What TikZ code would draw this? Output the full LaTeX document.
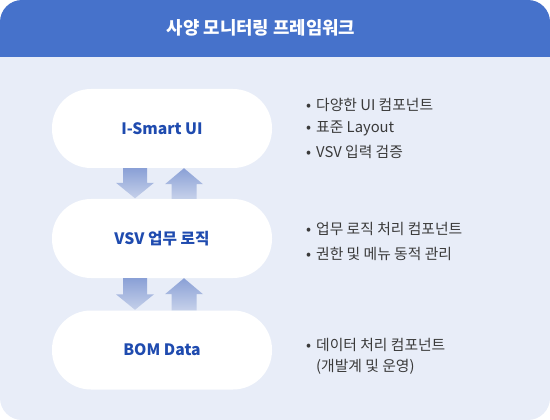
\documentclass[tikz,border=0pt]{standalone}
\usepackage{fontspec}
\setmainfont{Noto Sans CJK KR}
\usetikzlibrary{calc}
\definecolor{hdr}{HTML}{4672CB}
\definecolor{bodybg}{HTML}{E8EDF8}
\definecolor{pilltext}{HTML}{1F4BAF}
\definecolor{bultext}{HTML}{3A3A3A}
\definecolor{arrlight}{HTML}{C6D1EA}
\definecolor{arrdark}{HTML}{8AA0D6}
\tikzset{
  pill/.style={fill=white, minimum width=220pt, minimum height=79pt, rounded corners=39pt,
    text=pilltext, font=\fontsize{15.7}{19}\selectfont\bfseries, inner sep=0pt},
  bul/.style={anchor=west, text=bultext, font=\fontsize{14.8}{17}\selectfont, inner sep=0pt},
  downarr/.style={top color=arrlight, bottom color=arrdark, draw=none},
  uparr/.style={top color=arrdark, bottom color=arrlight, draw=none},
}
\newcommand{\bl}{\makebox[11pt][l]{\hspace{1pt}•}}
\begin{document}
\begin{tikzpicture}[x=1pt,y=-1pt]
\useasboundingbox (0,0) rectangle (550,420);
\begin{scope}
\clip[rounded corners=22pt] (0,0) rectangle (550,420);
\fill[bodybg] (0,0) rectangle (550,420);
\fill[hdr] (0,0) rectangle (550,57);
\end{scope}
\node[text=white, font=\fontsize{17.8}{21}\selectfont\bfseries] (title) at (261,28) {사양 모니터링 프레임워크};

\node[pill] (ui) at (162,128.5) {I-Smart UI};
\node[pill] (vsv) at (162,238.5) {VSV 업무 로직};
\node[pill] (bom) at (162,350) {BOM Data};

\foreach \a/\b in {ui/vsv, vsv/bom}{
  \path let \p1=(\a.south), \p2=(\b.north) in
    [downarr] (\x1-27-12,\y1) -- (\x1-27+12,\y1) -- (\x1-27+12,\y2+16) -- (\x1-27+19,\y2+16)
      -- (\x1-27,\y2+0.5) -- (\x1-27-19,\y2+16) -- (\x1-27-12,\y2+16) -- cycle
    [uparr] (\x1+22,\y1) -- (\x1+22+19,\y1-16) -- (\x1+22+12.5,\y1-16) -- (\x1+22+12.5,\y2)
      -- (\x1+22-12.5,\y2) -- (\x1+22-12.5,\y1-16) -- (\x1+22-19,\y1-16) -- cycle;
}

\node[bul] (b1) at (305,105) {\bl 다양한 UI 컴포넌트};
\node[bul] (b2) at (305,128.5) {\bl 표준 Layout};
\node[bul] (b3) at (305,152) {\bl VSV 입력 검증};
\node[bul] (b4) at (305,229) {\bl 업무 로직 처리 컴포넌트};
\node[bul] (b5) at (305,254) {\bl 권한 및 메뉴 동적 관리};
\node[bul] (b6) at (305,345) {\bl 데이터 처리 컴포넌트};
\node[bul] (b7) at (305,367) {\hspace{11pt}(개발계 및 운영)};
\end{tikzpicture}
\end{document}
